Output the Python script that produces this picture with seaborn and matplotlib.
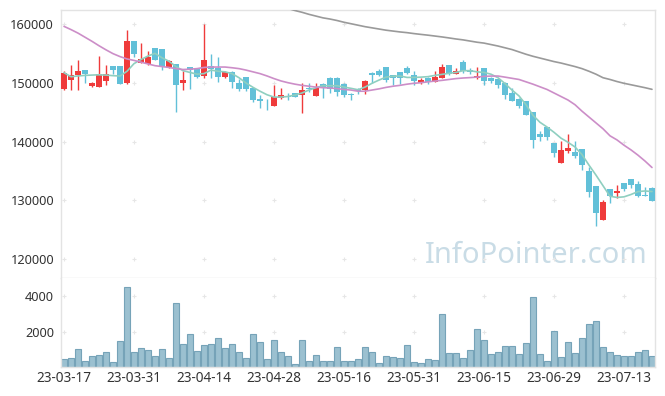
import numpy as np
import matplotlib
matplotlib.use("Agg")
import matplotlib.pyplot as plt
import seaborn as sns

# daily OHLC (85 trading days, 23-03-17 .. 23-07-19)
opens = [149030, 150450, 151420, 152210, 149540, 149370, 150400, 152890, 152890, 150050,
         157150, 153460, 153180, 155960, 155790, 152780, 153240, 150050, 152720, 152380,
         151130, 152890, 152500, 150970, 151900, 150050, 150970, 149150, 147270, 147150,
         146080, 147440, 147830, 148240, 147950, 149200, 147830, 149780, 150900, 150900,
         149830, 148120, 149030, 148750, 151750, 152100, 152700, 151360, 151870, 152500,
         151360, 150050, 150900, 150220, 150900, 153070, 151530, 153600, 152210, 150800,
         152550, 150900, 150630, 150050, 148340, 147220, 146930, 145000, 141300, 142440,
         139720, 136420, 138470, 138180, 138750, 135000, 132450, 126650, 131940, 131250,
         132900, 133640, 132790, 130970, 132100]
highs = [151980, 153000, 153860, 152300, 150200, 154540, 153010, 152950, 152950, 158970,
         157200, 156760, 155390, 156000, 155800, 153970, 153300, 151980, 152800, 152450,
         160000, 154940, 154380, 152000, 152000, 150630, 151050, 149200, 147950, 147200,
         149660, 149090, 148340, 148300, 149950, 149950, 150000, 150000, 151000, 151000,
         150050, 148300, 149200, 150510, 151800, 152380, 152800, 151400, 151900, 152900,
         152040, 150900, 150950, 152040, 153230, 153100, 152600, 153920, 152600, 152700,
         152600, 151000, 150700, 150100, 149150, 147400, 147000, 145050, 141820, 142500,
         139800, 140120, 141250, 140120, 138800, 135740, 132500, 130060, 132000, 132560,
         133000, 133700, 133360, 132220, 132200]
lows = [148860, 148860, 148750, 150000, 149400, 149300, 149710, 151530, 149800, 149770,
        154370, 153350, 153120, 153900, 152270, 152550, 145000, 148860, 149030, 150900,
        150900, 150800, 150220, 150900, 149090, 148690, 148700, 146760, 145690, 145400,
        146000, 147320, 147100, 147600, 144940, 148500, 147700, 147390, 148240, 147780,
        147610, 147100, 148070, 148070, 150000, 151240, 150200, 149660, 149780, 151530,
        149660, 149900, 149900, 150150, 150850, 151400, 151450, 151650, 151530, 150700,
        149660, 150000, 149090, 147300, 146900, 145740, 144500, 138870, 140170, 140290,
        137330, 136400, 138130, 137300, 135170, 130630, 125630, 126600, 129610, 130350,
        131600, 132050, 130600, 130750, 129900]
closes = [151700, 151300, 152100, 151590, 150000, 151530, 151530, 152270, 149880, 157150,
          154940, 154090, 154370, 153970, 152780, 153750, 149600, 150570, 152270, 150960,
          153920, 152440, 151070, 151920, 150200, 149030, 149030, 147100, 146980, 147050,
          147560, 147950, 147560, 147660, 148800, 148930, 149200, 149100, 148920, 148520,
          147950, 147950, 148690, 150340, 151410, 151360, 150500, 150900, 150850, 151650,
          150390, 150510, 150220, 151000, 152780, 151530, 152100, 152000, 151920, 151250,
          150340, 150340, 149660, 147950, 146980, 146080, 144550, 140290, 140850, 140850,
          138010, 138580, 138870, 137560, 136030, 131480, 127900, 129660, 130800, 131600,
          131940, 132620, 130800, 130750, 129950]
volume = [510, 570, 1060, 400, 680, 730, 900, 350, 1500, 4530,
          900, 1120, 1010, 680, 1060, 570, 3600, 1340, 1890, 950,
          1280, 1340, 1720, 1120, 1340, 900, 570, 1890, 1450, 510,
          1560, 900, 680, 240, 1560, 400, 730, 400, 400, 1170,
          400, 400, 510, 1170, 900, 290, 680, 620, 570, 1280,
          350, 290, 510, 460, 2990, 840, 840, 570, 1010, 2170,
          1560, 790, 900, 1230, 1230, 790, 1390, 3930, 790, 400,
          2060, 620, 1450, 840, 1720, 2440, 2610, 1170, 900, 730,
          680, 680, 900, 1010, 680]
ma5 = [151750, 151070, 151200, 151300, 151350, 151400, 151350, 151250, 151190, 152000,
       153300, 154000, 154600, 155060, 154300, 153700, 152800, 152100, 151800, 151500,
       151600, 152200, 152000, 151900, 151600, 150900, 150000, 149260, 148600, 148000,
       147600, 147600, 147700, 147950, 148300, 148800, 149200, 149540, 149540, 149540,
       149300, 149090, 148850, 149300, 149950, 150500, 151000, 151150, 151200, 150950,
       150950, 151000, 151080, 151300, 151470, 151650, 151800, 152100, 152100, 151900,
       151800, 151500, 150900, 149900, 148800, 147800, 146300, 144500, 143300, 142500,
       141600, 140600, 139900, 139100, 137800, 136000, 134300, 132500, 130700, 130500,
       130600, 131000, 131500, 131600, 131500]
ma20 = [159650, 159100, 158500, 157800, 157100, 156350, 155650, 155000, 154500, 154100,
        153850, 153550, 153250, 152950, 152800, 152650, 152450, 152300, 152350, 152450,
        152650, 152720, 152720, 152720, 152600, 152450, 152200, 151900, 151600, 151200,
        150750, 150350, 150050, 149800, 149600, 149450, 149300, 149200, 149150, 149050,
        148900, 148800, 148600, 148600, 148800, 149000, 149250, 149450, 149600, 149800,
        149950, 150050, 150200, 150330, 150450, 150600, 150750, 150850, 150920, 151000,
        151130, 151180, 151190, 151000, 150800, 150600, 150200, 149800, 149350, 148900,
        148300, 147700, 147100, 146300, 145200, 144200, 143200, 142200, 141000, 140300,
        139400, 138600, 137700, 136700, 135600]
ma60_start = 32
ma60 = [162700, 162350, 162050, 161700, 161400, 161100, 160900, 160650, 160350, 160100,
        159850, 159600, 159400, 159200, 159000, 158850, 158700, 158580, 158420, 158280,
        158150, 158000, 157850, 157680, 157500, 157350, 157150, 156950, 156800, 156550,
        156300, 156000, 155700, 155300, 154900, 154550, 154250, 153950, 153650, 153400,
        153100, 152800, 152450, 152000, 151500, 150900, 150600, 150250, 149950, 149700,
        149450, 149200, 148920]

date_labels = ["23-03-17", "23-03-31", "23-04-14", "23-04-28", "23-05-16",
               "23-05-31", "23-06-15", "23-06-29", "23-07-13"]
price_ticks = [120000, 130000, 140000, 150000, 160000]
vol_ticks = [2000, 4000]

RED = "#ef3b3b"
BLUE = "#62c0d8"
GRID = "#e6e6e6"

sns.set_style("white")
plt.rcParams['font.family'] = ['Noto Sans', 'DejaVu Sans']

fig = plt.figure(figsize=(6.65, 3.96), dpi=100)
ax = fig.add_axes([61 / 665, 1 - 278 / 396, 594 / 665, 268 / 396])
ax2 = fig.add_axes([61 / 665, 1 - 367 / 396, 594 / 665, 89 / 396], sharex=ax)

days = np.arange(len(closes))
o = np.array(opens)
c = np.array(closes)
col = np.where(c >= o, RED, BLUE)

ax.text(0.987, 0.085, "InfoPointer.com", transform=ax.transAxes, ha="right",
        va="center", fontsize=21, color="#c9dce6", zorder=0)

tick_pos = np.arange(0, len(days), 10)
gx, gy = np.meshgrid(tick_pos, price_ticks)
ax.scatter(gx.ravel(), gy.ravel(), marker="+", s=9, color=GRID, linewidths=0.8, zorder=0)
gx2, gy2 = np.meshgrid(tick_pos, vol_ticks)
ax2.scatter(gx2.ravel(), gy2.ravel(), marker="+", s=9, color=GRID, linewidths=0.8, zorder=0)

# candles
ax.vlines(days, lows, highs, colors=col, linewidth=1, zorder=2)
ax.bar(days, np.maximum(np.abs(c - o), 80), bottom=np.minimum(o, c), width=0.72,
       color=col, linewidth=0, zorder=3)

# moving averages
sns.lineplot(x=days, y=ma5, color="#8fcfc0", linewidth=1.2, ax=ax, zorder=4)
sns.lineplot(x=days, y=ma20, color="#cc8ec8", linewidth=1.2, ax=ax, zorder=4)
sns.lineplot(x=np.arange(ma60_start, len(days)), y=ma60, color="#9a9a9a",
             linewidth=1.2, ax=ax, zorder=4)

# volume
sns.barplot(x=days, y=volume, native_scale=True, width=0.95, color="#9bc0d0",
            edgecolor="#76a3b8", linewidth=0.8, saturation=1, errorbar=None, ax=ax2)

ax.set_xlim(-0.43, len(days) - 0.57)
ax.set_ylim(116770, 162440)
ax2.set_ylim(94, 5000)

ax.set_yticks(price_ticks, [str(v) for v in price_ticks])
ax2.set_yticks(vol_ticks, [str(v) for v in vol_ticks])
ax2.set_xticks(tick_pos, date_labels)
ax.tick_params(axis="x", labelbottom=False, direction="inout", length=4, color=GRID)
ax.tick_params(axis="y", length=0, pad=5, labelsize=9.2, labelcolor="#333333")
ax2.tick_params(axis="y", length=0, pad=5, labelsize=9.2, labelcolor="#333333")
ax2.tick_params(axis="x", length=0, pad=3, labelsize=9.8, labelcolor="#333333")
ax.set_xlabel("")
ax.set_ylabel("")
ax2.set_xlabel("")
ax2.set_ylabel("")

for a in (ax, ax2):
    for s in a.spines.values():
        s.set_color("#e3e3e3")
        s.set_linewidth(1)
ax2.spines["top"].set_visible(False)

fig.savefig("out.png", dpi=100, facecolor="white")
